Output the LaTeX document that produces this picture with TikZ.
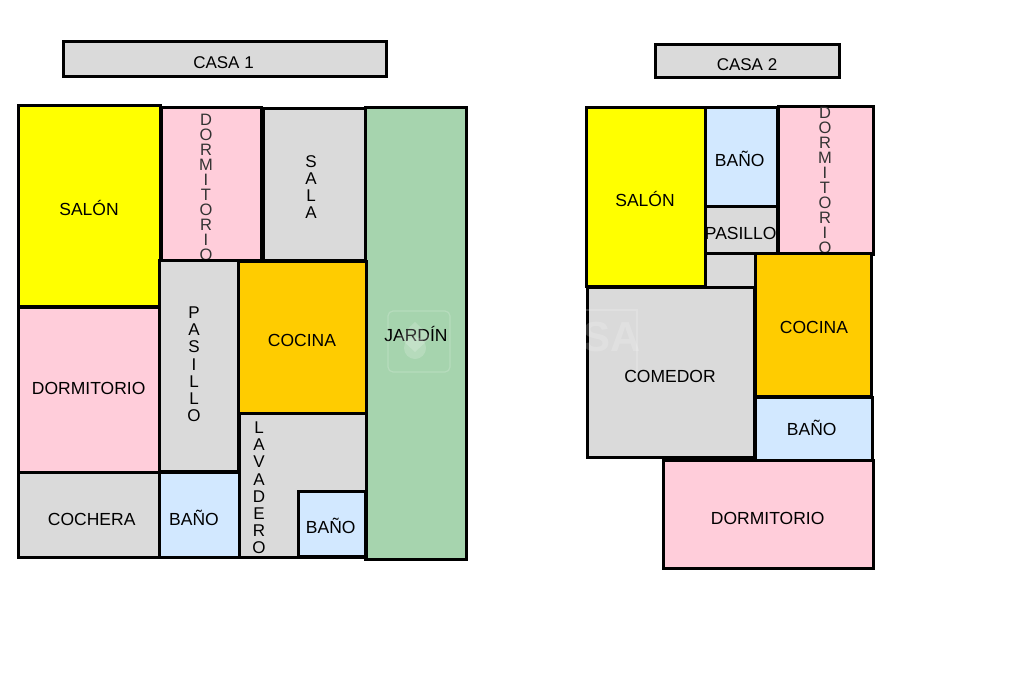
\documentclass[tikz,border=0pt]{standalone}
\usepackage{fontspec}
\setmainfont{Liberation Sans}
\definecolor{cyellow}{HTML}{FFFF00}
\definecolor{cpink}{HTML}{FFCDDA}
\definecolor{cgray}{HTML}{DADADA}
\definecolor{cgreen}{HTML}{A6D4AE}
\definecolor{corange}{HTML}{FFCC00}
\definecolor{cblue}{HTML}{D2E8FF}
\tikzset{
  room/.style={draw=black,line width=3pt,line join=miter},
  lbl/.style={inner sep=0pt,outer sep=0pt,text height=12.5pt,text depth=0pt,font=\fontsize{17.5}{17.5}\selectfont},
  title/.style={lbl,font=\fontsize{17}{17}\selectfont},
  vlbl/.style={inner sep=0pt,outer sep=0pt,anchor=north,align=center,font=\fontsize{17}{17.1}\selectfont},
  thin vlbl/.style={inner sep=0pt,outer sep=0pt,anchor=north,align=center,text=black!80,font=\fontsize{16.5}{15}\selectfont},
  mark shape/.style={white,opacity=.18}
}
\begin{document}
\begin{tikzpicture}[x=1pt,y=-1pt]
\useasboundingbox (0,0) rectangle (1024,682);
% CASA 1
\draw[room,fill=cgray] (63.5,41.5) rectangle (386.5,76.5);
\node[title] (t1) at (223.5,62.7) {CASA 1};
\draw[room,fill=cgreen] (365.5,107.5) rectangle (466.5,559.5);
\draw[room,fill=cyellow] (18.5,105.5) rectangle (160.5,307.5);
\draw[room,fill=cpink] (161.5,107.5) rectangle (261.5,260.5);
\node[thin vlbl] (d1) at (206,114) {D\\O\\R\\M\\I\\T\\O\\R\\I\\O};
\draw[room,fill=cgray] (263.5,108.5) rectangle (365.5,260.5);
\draw[room,fill=cgray] (159.5,260.5) rectangle (238.5,471.5);
\draw[room,fill=corange] (238.5,261.5) rectangle (366.5,413.5);
\draw[room,fill=cgray] (239.5,413.5) rectangle (366.5,557.5);
\draw[room,fill=cblue] (298.5,491.5) rectangle (365.5,556.5);
\draw[room,fill=cpink] (18.5,307.5) rectangle (159.5,472.5);
\draw[room,fill=cgray] (18.5,472.5) rectangle (159.5,557.5);
\draw[room,fill=cblue] (159.5,472.5) rectangle (239.5,557.5);
\draw[black,line width=4pt] (18.5,307) -- (160,307);
\draw[black,line width=4pt] (159,472) -- (239,472);
\draw[black,line width=4pt] (262,107) -- (262,260);
\node[lbl] (n1) at (89,209) {SALÓN};
\node[vlbl] (n2) at (311,155.5) {S\\A\\L\\A};
\node[vlbl] (n3) at (194,307) {P\\A\\S\\I\\L\\L\\O};
\node[lbl] (n4) at (302,340.7) {COCINA};
\node[lbl] (n5) at (416,335.7) {JARDÍN};
\node[lbl] (n6) at (88.7,388.7) {DORMITORIO};
\node[vlbl] (n7) at (259,422) {L\\A\\V\\A\\D\\E\\R\\O};
\node[lbl] (n8) at (91.7,519) {COCHERA};
\node[lbl] (n9) at (194,519) {BAÑO};
\node[lbl] (n10) at (330.7,527) {BAÑO};
% CASA 2
\draw[room,fill=cgray] (655.5,44.5) rectangle (839.5,77.5);
\node[title] (t2) at (747,64.3) {CASA 2};
\draw[room,fill=cyellow] (586.5,107.5) rectangle (705.5,286.5);
\draw[room,fill=cblue] (705.5,107.5) rectangle (777.5,206.5);
\draw[room,fill=cpink] (778.5,106.5) rectangle (873.5,254.5);
\node[thin vlbl] (d2) at (825,107) {D\\O\\R\\M\\I\\T\\O\\R\\I\\O};
\draw[room,fill=cgray] (705.5,206.5) rectangle (777.5,253.5);
\draw[room,fill=cgray] (705.5,253.5) rectangle (757.5,287.5);
\draw[room,fill=corange] (755.5,253.5) rectangle (871.5,396.5);
\draw[room,fill=cgray] (587.5,287.5) rectangle (754.5,457.5);
\draw[room,fill=cblue] (755.5,397.5) rectangle (872.5,460.5);
\draw[room,fill=cpink] (663.5,460.5) rectangle (873.5,568.5);
\node[lbl] (m1) at (645,200) {SALÓN};
\node[lbl] (m2) at (739.7,160) {BAÑO};
\node[lbl] (m3) at (740.7,233) {PASILLO};
\node[lbl] (m4) at (814,327) {COCINA};
\node[lbl] (m5) at (670,376.7) {COMEDOR};
\node[lbl] (m6) at (811.7,429) {BAÑO};
\node[lbl] (m7) at (767.7,518.7) {DORMITORIO};
% faint mark across the two plans
\draw[mark shape,line width=1.2pt,rounded corners=5pt] (388,311) rectangle (450,372);
\fill[mark shape] (415,322) -- (431,337) -- (415,352) -- (399,337) -- cycle;
\fill[mark shape] (415,348) circle (11);
\draw[mark shape,line width=1.2pt] (585,310) -- (637,310) -- (637,372);
\node[mark shape,inner sep=0pt,font=\bfseries\fontsize{42}{42}\selectfont] (wm) at (612,337) {SA};
\end{tikzpicture}
\end{document}
